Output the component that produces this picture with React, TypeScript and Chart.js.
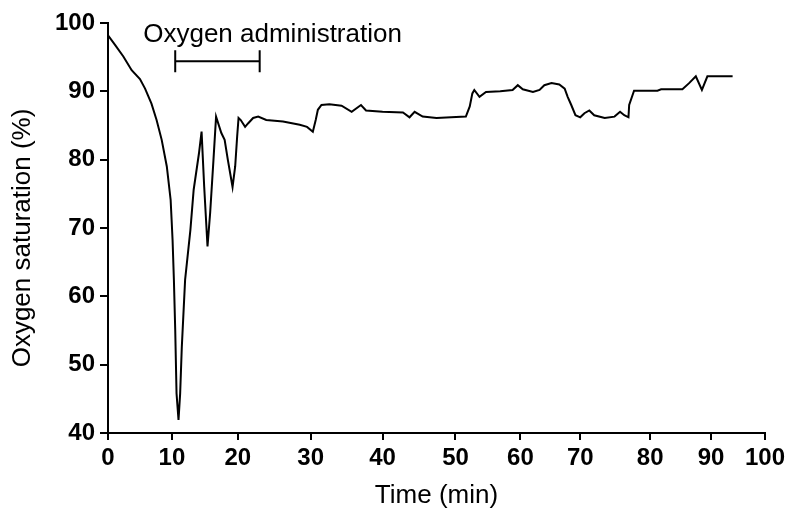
import React, { useEffect, useRef } from "react";
import { Chart, registerables, LinearScale } from "chart.js";

// ---- Data ----
const TIME_MIN: number[] = [
  0, 1.1, 2.4, 3.7, 5.0, 5.8, 6.8, 7.6, 8.4, 9.2,
  9.8, 9.95, 10.1, 10.3, 10.5, 10.7, 11.0, 11.25, 11.5, 12.0,
  12.8, 13.3, 14.1, 14.5, 14.9, 15.4, 15.8, 16.3, 16.7, 17.5,
  18.0, 18.5, 19.2, 19.6, 19.9, 20.1, 20.4, 21.0, 21.4, 22.1,
  22.8, 23.9, 26.2, 28.5, 29.5, 30.3, 30.7, 31.0, 31.5, 32.6,
  34.3, 35.7, 37.0, 37.7, 40.0, 42.8, 43.7, 44.4, 45.5, 47.4,
  49.4, 51.6, 52.2, 52.6, 52.9, 53.7, 54.7, 56.9, 58.8, 59.6,
  60.4, 62.1, 63.2, 64.0, 65.2, 66.5, 67.4, 67.9, 68.5, 69.2,
  70.0, 70.6, 71.3, 72.0, 73.5, 74.9, 75.7, 76.3, 76.9, 77.0,
  77.7, 81.2, 81.8, 85.3, 86.4, 87.5, 88.5, 89.4, 94.0,
];
const SATURATION: number[] = [
  98.2, 96.8, 95.1, 93.1, 91.8, 90.4, 88.2, 85.8, 82.9, 79.0,
  74.1, 71.2, 68.2, 62.4, 55.1, 45.8, 41.9, 45.8, 52.6, 62.4,
  69.7, 75.6, 80.9, 84.1, 76.0, 67.3, 72.2, 79.9, 86.3, 83.9,
  82.9, 79.9, 76.0, 79.0, 83.4, 86.1, 85.8, 84.8, 85.3, 86.1,
  86.3, 85.8, 85.6, 85.1, 84.8, 84.1, 85.8, 87.3, 88.0, 88.1,
  87.9, 87.0, 88.0, 87.2, 87.0, 86.9, 86.2, 87.0, 86.3, 86.1,
  86.2, 86.3, 87.8, 89.7, 90.2, 89.2, 89.9, 90.0, 90.2, 90.9,
  90.3, 89.9, 90.2, 90.9, 91.2, 91.0, 90.4, 89.2, 88.0, 86.5,
  86.2, 86.8, 87.2, 86.5, 86.1, 86.3, 87.0, 86.5, 86.2, 88.0,
  90.1, 90.1, 90.3, 90.3, 91.2, 92.2, 90.2, 92.2, 92.2,
];
const X_TICKS: number[] = [0, 10, 20, 30, 40, 50, 60, 70, 80, 90, 100];
const Y_TICKS: number[] = [40, 50, 60, 70, 80, 90, 100];
const OXYGEN_LABEL = "Oxygen administration";
const OXYGEN_START = 10.5; // min
const OXYGEN_END = 23.0; // min
const X_TITLE = "Time (min)";
const Y_TITLE = "Oxygen saturation (%)";

// ---- Axis warp: the printed time axis has unevenly spaced ticks ----
const WARP_FRACTIONS: number[] = [
  0, 0.0973, 0.1976, 0.3085, 0.4179, 0.5289, 0.6277, 0.7188, 0.8252, 0.9179, 1,
];

function warp(v: number): number {
  const t = X_TICKS;
  const w = WARP_FRACTIONS;
  if (v <= t[0]) return w[0] + ((v - t[0]) / (t[1] - t[0])) * (w[1] - w[0]);
  for (let i = 0; i < t.length - 1; i++) {
    if (v <= t[i + 1]) {
      const f = (v - t[i]) / (t[i + 1] - t[i]);
      return w[i] + f * (w[i + 1] - w[i]);
    }
  }
  const n = t.length - 1;
  return w[n] + ((v - t[n]) / (t[n] - t[n - 1])) * (w[n] - w[n - 1]);
}

function unwarp(d: number): number {
  const t = X_TICKS;
  const w = WARP_FRACTIONS;
  for (let i = 0; i < w.length - 1; i++) {
    if (d <= w[i + 1] || i === w.length - 2) {
      const f = (d - w[i]) / (w[i + 1] - w[i]);
      return t[i] + f * (t[i + 1] - t[i]);
    }
  }
  return t[t.length - 1];
}

class WarpedLinearScale extends (LinearScale as any) {
  static id = "warpedLinear";
  static defaults = (LinearScale as any).defaults;
  getPixelForValue(value: number) {
    if (value === null || value === undefined) return NaN;
    return (this as any).getPixelForDecimal(warp(value));
  }
  getValueForPixel(pixel: number) {
    return unwarp((this as any).getDecimalForPixel(pixel));
  }
}

Chart.register(...registerables, WarpedLinearScale as any);

const FONT = "'Liberation Sans', Arial, Helvetica, sans-serif";

const annotationPlugin = {
  id: "oxygenAnnotation",
  afterDraw(chart: any) {
    const { ctx, chartArea } = chart;
    const xs = chart.scales.x;
    const ys = chart.scales.y;
    const x1 = xs.getPixelForValue(OXYGEN_START);
    const x2 = xs.getPixelForValue(OXYGEN_END);
    const yb = ys.getPixelForValue(94.4);
    ctx.save();
    ctx.strokeStyle = "#000";
    ctx.lineWidth = 2;
    ctx.beginPath();
    ctx.moveTo(x1, yb);
    ctx.lineTo(x2, yb);
    ctx.moveTo(x1, yb - 11);
    ctx.lineTo(x1, yb + 11);
    ctx.moveTo(x2, yb - 11);
    ctx.lineTo(x2, yb + 11);
    ctx.stroke();
    ctx.fillStyle = "#000";
    ctx.font = `26px ${FONT}`;
    ctx.textAlign = "left";
    ctx.textBaseline = "alphabetic";
    ctx.fillText(OXYGEN_LABEL, x1 - 32, chartArea.top + 19);

    // y-axis title, rotated, centred slightly below the axis middle as in the print
    ctx.translate(23, (chartArea.top + chartArea.bottom) / 2 + 10);
    ctx.rotate(-Math.PI / 2);
    ctx.textAlign = "center";
    ctx.textBaseline = "middle";
    ctx.fillText(Y_TITLE, 0, 0);
    ctx.restore();
  },
};

export default function App() {
  const canvasRef = useRef<HTMLCanvasElement | null>(null);

  useEffect(() => {
    if (!canvasRef.current) return;
    const chart = new Chart(canvasRef.current, {
      type: "line",
      data: {
        datasets: [
          {
            label: "Oxygen saturation",
            data: TIME_MIN.map((t, i) => ({ x: t, y: SATURATION[i] })),
            borderColor: "#000",
            borderWidth: 2,
            pointRadius: 0,
            tension: 0,
            fill: false,
          },
        ],
      },
      options: {
        animation: false,
        responsive: false,
        maintainAspectRatio: false,
        layout: { padding: { top: 23, right: 23, bottom: 0, left: 0 } },
        plugins: {
          legend: { display: false },
          tooltip: { enabled: false },
        },
        scales: {
          x: {
            type: "warpedLinear" as any,
            min: 0,
            max: 100,
            afterBuildTicks: (scale: any) => {
              scale.ticks = X_TICKS.map((v) => ({ value: v }));
            },
            afterFit: (scale: any) => {
              scale.height = 76;
            },
            grid: {
              drawOnChartArea: false,
              drawTicks: true,
              tickLength: 7,
              color: "#000",
              lineWidth: 2,
            },
            border: { display: true, color: "#000", width: 2 },
            ticks: {
              color: "#000",
              padding: 4,
              maxRotation: 0,
              autoSkip: false,
              font: { family: FONT, size: 24, weight: "bold" },
              callback: (v: any) => String(v),
            },
            title: {
              display: true,
              text: X_TITLE,
              color: "#000",
              padding: { top: 0, bottom: 0 },
              font: { family: FONT, size: 26, lineHeight: 1 },
            },
          },
          y: {
            min: 40,
            max: 100,
            afterBuildTicks: (scale: any) => {
              scale.ticks = Y_TICKS.map((v) => ({ value: v }));
            },
            afterFit: (scale: any) => {
              scale.width = 108;
            },
            grid: {
              drawOnChartArea: false,
              drawTicks: true,
              tickLength: 8,
              color: "#000",
              lineWidth: 2,
            },
            border: { display: true, color: "#000", width: 2 },
            ticks: {
              color: "#000",
              padding: 5,
              autoSkip: false,
              font: { family: FONT, size: 24, weight: "bold" },
              callback: (v: any) => String(v),
            },
            title: { display: false },
          },
        },
      },
      plugins: [annotationPlugin],
    });
    return () => chart.destroy();
  }, []);

  return (
    <div style={{ position: "fixed", left: 0, top: 0, width: 789, height: 509, background: "#fff" }}>
      <canvas ref={canvasRef} width={789} height={509} style={{ display: "block" }} />
    </div>
  );
}
